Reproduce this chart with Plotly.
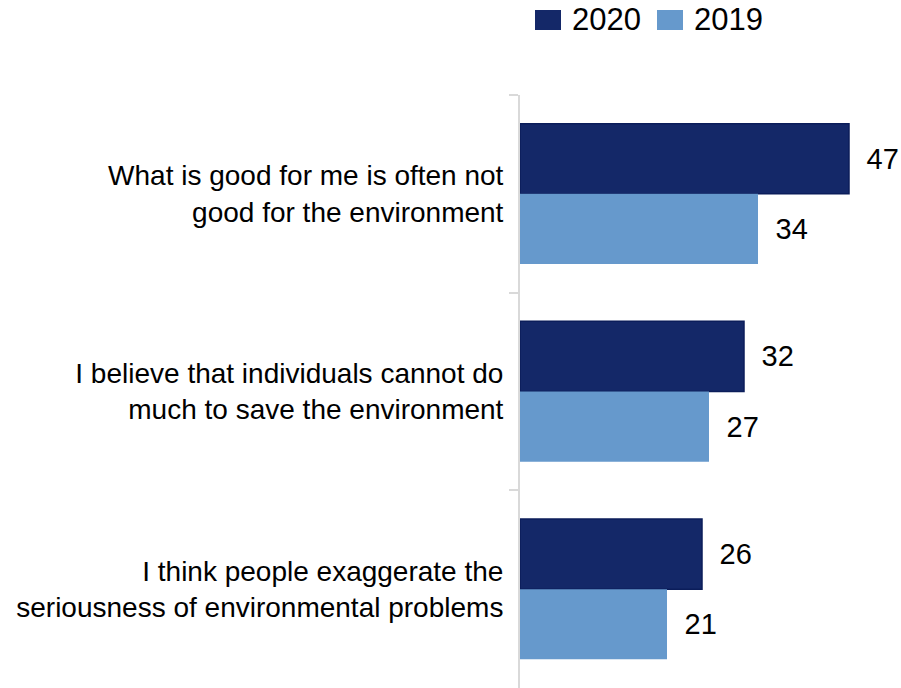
import plotly.graph_objects as go

# Survey statements (top to bottom) and share agreeing, by year
statements = [
    "What is good for me is often not<br>good for the environment",
    "I believe that individuals cannot do<br>much to save the environment",
    "I think people exaggerate the<br>seriousness of environmental problems",
]
years = ["2020", "2019"]
values_2020 = [47, 32, 26]
values_2019 = [34, 27, 21]

DARK = "#142868"
DARK_EDGE = "#0b1d5a"
LIGHT = "#6699cc"
FONT = "Liberation Sans, Arial, sans-serif"

W, H = 901, 688
ML, MR, MT, MB = 520, 0, 95, 0
PX_PER_UNIT = 7.0

fig = go.Figure()
fig.add_trace(go.Bar(
    name=years[0], y=statements, x=values_2020, orientation="h",
    marker=dict(color=DARK, line=dict(color=DARK_EDGE, width=1.5)),
    texttemplate="\u2002%{x}", textposition="outside", cliponaxis=False,
    textfont=dict(size=29, color="#000000", family=FONT),
    showlegend=False,
))
fig.add_trace(go.Bar(
    name=years[1], y=statements, x=values_2019, orientation="h",
    marker=dict(color=LIGHT, line=dict(width=0)),
    texttemplate="\u2002%{x}", textposition="outside", cliponaxis=False,
    textfont=dict(size=29, color="#000000", family=FONT),
    showlegend=False,
))

# Legend drawn as swatches + labels above the plot
plot_w = W - ML - MR
plot_h = H - MT - MB


def px_x(px):
    return (px - ML) / plot_w


def px_y(py):
    return (H - MB - py) / plot_h


legend_items = [(years[0], DARK, 535), (years[1], LIGHT, 657)]
shapes, annotations = [], []
for label, color, left in legend_items:
    shapes.append(dict(
        type="rect", xref="paper", yref="paper",
        x0=px_x(left), x1=px_x(left + 26), y0=px_y(30), y1=px_y(10),
        fillcolor=color, line=dict(width=0),
    ))
    annotations.append(dict(
        text=label, xref="paper", yref="paper",
        x=px_x(left + 35), y=px_y(19), xanchor="left", yanchor="middle",
        showarrow=False, font=dict(size=31, color="#000000", family=FONT),
    ))

fig.update_layout(
    width=W, height=H,
    margin=dict(l=ML, r=MR, t=MT, b=MB, pad=0),
    paper_bgcolor="white", plot_bgcolor="white",
    barmode="group", bargap=0.29, bargroupgap=0,
    font=dict(family=FONT, size=28, color="#000000"),
    shapes=shapes, annotations=annotations,
    xaxis=dict(visible=False, range=[0, plot_w / PX_PER_UNIT], fixedrange=True),
    yaxis=dict(
        autorange="reversed", showline=True, linecolor="#d9d9d9", linewidth=2,
        ticks="outside", ticklen=9, tickwidth=2, tickcolor="#d9d9d9",
        tickson="boundaries", showgrid=False, zeroline=False,
        ticklabelstandoff=9,
        tickfont=dict(size=28, color="#000000", family=FONT),
    ),
)

fig.write_html("out.html")
